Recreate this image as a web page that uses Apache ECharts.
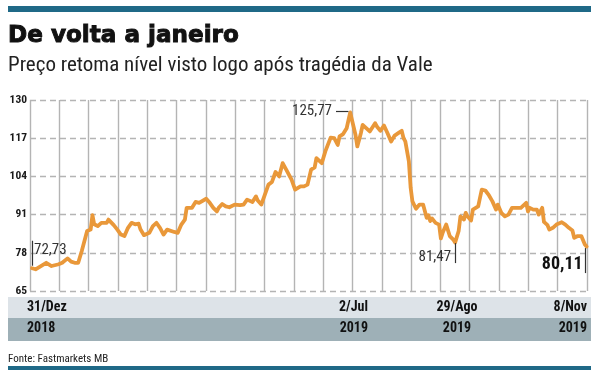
<!DOCTYPE html>
<html><head><meta charset="utf-8">
<script src="https://cdn.jsdelivr.net/npm/echarts@6/dist/echarts.min.js"></script>
<style>html,body{margin:0;padding:0;background:#fff}#c{width:603px;height:378px}</style>
</head><body><div id="c"></div>
<script>
const dates = [
'2018-12-31','2019-01-02','2019-01-08','2019-01-11','2019-01-15','2019-01-17','2019-01-20','2019-01-22','2019-01-24','2019-01-26',
'2019-01-28','2019-01-29','2019-01-31','2019-02-02','2019-02-03','2019-02-04','2019-02-06','2019-02-08','2019-02-11','2019-02-12',
'2019-02-15','2019-02-17','2019-02-19','2019-02-21','2019-02-23','2019-02-25','2019-02-27','2019-03-01','2019-03-02','2019-03-04',
'2019-03-07','2019-03-09','2019-03-11','2019-03-13','2019-03-15','2019-03-17','2019-03-18','2019-03-21','2019-03-23','2019-03-25',
'2019-03-27','2019-03-28','2019-03-31','2019-04-02','2019-04-04','2019-04-05','2019-04-08','2019-04-10','2019-04-12','2019-04-14',
'2019-04-15','2019-04-17','2019-04-19','2019-04-21','2019-04-24','2019-04-27','2019-04-29','2019-05-01','2019-05-04','2019-05-06',
'2019-05-07','2019-05-09','2019-05-11','2019-05-13','2019-05-15','2019-05-17','2019-05-19','2019-05-21','2019-05-23','2019-05-26',
'2019-05-28','2019-05-31','2019-06-02','2019-06-04','2019-06-06','2019-06-08','2019-06-09','2019-06-10','2019-06-12','2019-06-14',
'2019-06-17','2019-06-19','2019-06-21','2019-06-22','2019-06-24','2019-06-26','2019-06-28','2019-06-29','2019-07-01','2019-07-02',
'2019-07-04','2019-07-05','2019-07-07','2019-07-09','2019-07-12','2019-07-13','2019-07-15','2019-07-17','2019-07-19','2019-07-21',
'2019-07-23','2019-07-25','2019-07-27','2019-07-28','2019-07-29','2019-07-31','2019-08-01','2019-08-02','2019-08-04','2019-08-06',
'2019-08-08','2019-08-10','2019-08-11','2019-08-12','2019-08-13','2019-08-15','2019-08-17','2019-08-18','2019-08-19','2019-08-21',
'2019-08-23','2019-08-25','2019-08-26','2019-08-28','2019-08-29','2019-08-31','2019-09-01','2019-09-02','2019-09-04','2019-09-05',
'2019-09-08','2019-09-09','2019-09-10','2019-09-12','2019-09-14','2019-09-16','2019-09-18','2019-09-19','2019-09-21','2019-09-23',
'2019-09-25','2019-09-27','2019-09-30','2019-10-02','2019-10-05','2019-10-06','2019-10-07','2019-10-09','2019-10-11','2019-10-12',
'2019-10-14','2019-10-15','2019-10-17','2019-10-18','2019-10-20','2019-10-22','2019-10-25','2019-10-27','2019-10-29','2019-10-31',
'2019-11-01','2019-11-03','2019-11-05','2019-11-07','2019-11-08'
];
const values = [
72.73,72.4,74.6,73.5,74.1,74.6,76.1,75.0,74.6,74.6,
78.6,79.2,85.4,85.9,90.8,87.7,87.1,88.2,88.2,89.3,
87.4,85.9,84.2,83.7,86.5,88.2,87.7,87.9,86.0,84.0,
84.8,87.1,88.2,86.5,84.2,85.9,85.9,85.1,84.8,87.6,
89.3,93.3,93.3,95.3,95.0,95.5,96.4,95.0,93.3,92.1,
93.3,94.6,93.8,93.5,94.4,94.2,94.4,96.1,95.3,97.2,
95.8,94.4,97.8,101.2,102.1,105.5,104.0,108.5,106.3,102.9,
99.5,100.6,100.6,101.2,106.3,107.1,110.2,110.2,108.5,112.5,
117.2,117.0,114.7,117.6,118.4,120.4,125.77,123.2,118.1,114.2,
118.7,121.5,120.4,119.3,122.1,121.0,119.5,121.3,118.7,115.9,
117.9,118.7,119.5,117.0,115.9,109.1,100.1,95.5,93.0,94.4,
94.4,89.9,90.8,88.8,89.7,88.2,87.6,82.9,84.8,87.6,
83.7,82.5,81.47,85.4,90.4,89.3,91.6,90.4,89.0,92.7,
93.8,96.7,99.5,99.2,97.6,95.5,92.7,94.4,91.6,90.4,
91.0,93.3,93.3,93.3,95.0,92.1,93.3,92.7,92.7,91.0,
93.3,88.5,87.4,85.9,86.5,87.6,88.4,87.6,86.5,85.6,
83.1,83.7,83.7,80.8,80.11
];
const yTicks = [65, 78, 91, 104, 117, 130];
const dateLabels = ['31/Dez', '2/Jul', '29/Ago', '8/Nov'];
const yearLabels = ['2018', '2019', '2019', '2019'];
const title = 'De volta a janeiro';
const subtitle = 'Preço retoma nível visto logo após tragédia da Vale';
const source = 'Fonte: Fastmarkets MB';

const DAY = 86400000;
function toTime(s){ const p = s.split('-').map(Number); return Date.UTC(p[0], p[1]-1, p[2]); }
const seriesData = dates.map((d,i) => [toTime(d), values[i]]);
const tMin = toTime(dates[0]) - 1.125*DAY;
const tMax = toTime(dates[dates.length-1]) + 0.2*DAY;

const iStart = 0;
const iPeak = values.indexOf(Math.max(...values));
const iLow = values.indexOf(81.47);
const iEnd = values.length - 1;
const fmt = v => v.toFixed(2).replace('.', ',');

const chart = echarts.init(document.getElementById('c'), null, {renderer:'canvas'});
const narrow = '"Liberation Sans Narrow","Roboto Condensed","Arial Narrow",sans-serif';
const BLUE = '#1f6987';
chart.setOption({
  animation:false,
  useUTC:true,
  backgroundColor:'#fff',
  grid:{left:30, right:16, top:100, bottom:87, containLabel:false},
  xAxis:[
    {type:'time', min:tMin, max:tMax, show:false, splitLine:{show:false}},
    {type:'value', min:0, max:19, interval:1, position:'bottom',
     axisLine:{show:false}, axisTick:{show:false}, axisLabel:{show:false},
     splitLine:{show:true, lineStyle:{color:'#b4b4b4', width:1.4}}}
  ],
  yAxis:{type:'value', min:yTicks[0], max:yTicks[yTicks.length-1], interval:13,
    axisLine:{show:false}, axisTick:{show:false},
    axisLabel:{margin:3, color:'#1a1a1a', fontWeight:'bold', fontSize:11.5, fontFamily:narrow},
    splitLine:{show:true, lineStyle:{color:'#b4b4b4', width:1.4, type:[6,4]}}},
  series:[{
    type:'line', xAxisIndex:0, data:seriesData, showSymbol:false, symbol:'none',
    lineStyle:{color:'#e9983a', width:3.8, join:'round', cap:'round'},
    z:3,
    markLine:{
      silent:true, symbol:['none','none'], animation:false,
      lineStyle:{color:'#333', width:1.2, type:'solid'},
      label:{show:false},
      data:[
        [{coord:[seriesData[iStart][0], 73.6]}, {coord:[seriesData[iStart][0], 82.1]}],
        [{coord:[seriesData[iLow][0], 81.3]}, {coord:[seriesData[iLow][0], 74.5]}],
        [{coord:[seriesData[iEnd][0]-0.6*DAY, 79.6]}, {coord:[seriesData[iEnd][0]-0.6*DAY, 71.1]}],
        [{coord:[seriesData[iPeak][0]-8*DAY, 126.2]}, {coord:[seriesData[iPeak][0]-1*DAY, 126.2]}]
      ]
    },
    markPoint:{
      silent:true, symbol:'rect', symbolSize:0, animation:false,
      data:[
        {coord:[seriesData[iStart][0], 79.0], label:{show:true, position:'right', distance:2, formatter:fmt(values[iStart]), color:'#333', fontSize:15, fontFamily:narrow}},
        {coord:[seriesData[iPeak][0]-8*DAY, 126.2], label:{show:true, position:'left', distance:4, formatter:fmt(values[iPeak]), color:'#333', fontSize:15, fontFamily:narrow}},
        {coord:[seriesData[iLow][0], 76.4], label:{show:true, position:'left', distance:4, formatter:fmt(values[iLow]), color:'#333', fontSize:15, fontFamily:narrow}},
        {coord:[seriesData[iEnd][0]-0.6*DAY, 73.9], label:{show:true, position:'left', distance:3, formatter:fmt(values[iEnd]), color:'#111', fontSize:18, fontWeight:'bold', fontFamily:narrow}}
      ]
    }
  }],
  graphic:[
    {type:'rect', shape:{x:8, y:6, width:583, height:6}, style:{fill:BLUE}},
    {type:'text', x:8, y:36, scaleX:1.05, scaleY:1.08, style:{text:title, fill:'#111', stroke:'#111', lineWidth:0.9, font:'bold 22px "DejaVu Sans",sans-serif', verticalAlign:'middle'}},
    {type:'text', x:8, y:66, style:{text:subtitle, fill:'#222', font:'21px '+narrow, verticalAlign:'middle'}},
    {type:'rect', shape:{x:8, y:297, width:583, height:21}, style:{fill:'#dde3e8'}},
    {type:'rect', shape:{x:8, y:318, width:583, height:23}, style:{fill:'#9eb0b7'}},
    {type:'text', x:27, y:307, style:{text:dateLabels[0], fill:'#111', font:'bold 14px '+narrow, verticalAlign:'middle', align:'left'}},
    {type:'text', x:368, y:307, style:{text:dateLabels[1], fill:'#111', font:'bold 14px '+narrow, verticalAlign:'middle', align:'right'}},
    {type:'text', x:457, y:307, style:{text:dateLabels[2], fill:'#111', font:'bold 14px '+narrow, verticalAlign:'middle', align:'center'}},
    {type:'text', x:587, y:307, style:{text:dateLabels[3], fill:'#111', font:'bold 14px '+narrow, verticalAlign:'middle', align:'right'}},
    {type:'text', x:27, y:328, style:{text:yearLabels[0], fill:'#111', font:'bold 14px '+narrow, verticalAlign:'middle', align:'left'}},
    {type:'text', x:368, y:328, style:{text:yearLabels[1], fill:'#111', font:'bold 14px '+narrow, verticalAlign:'middle', align:'right'}},
    {type:'text', x:457, y:328, style:{text:yearLabels[2], fill:'#111', font:'bold 14px '+narrow, verticalAlign:'middle', align:'center'}},
    {type:'text', x:587, y:328, style:{text:yearLabels[3], fill:'#111', font:'bold 14px '+narrow, verticalAlign:'middle', align:'right'}},
    {type:'text', x:8, y:359, style:{text:source, fill:'#222', font:'11px '+narrow, verticalAlign:'middle'}},
    {type:'rect', shape:{x:8, y:366, width:583, height:4}, style:{fill:BLUE}}
  ]
});
</script></body></html>
